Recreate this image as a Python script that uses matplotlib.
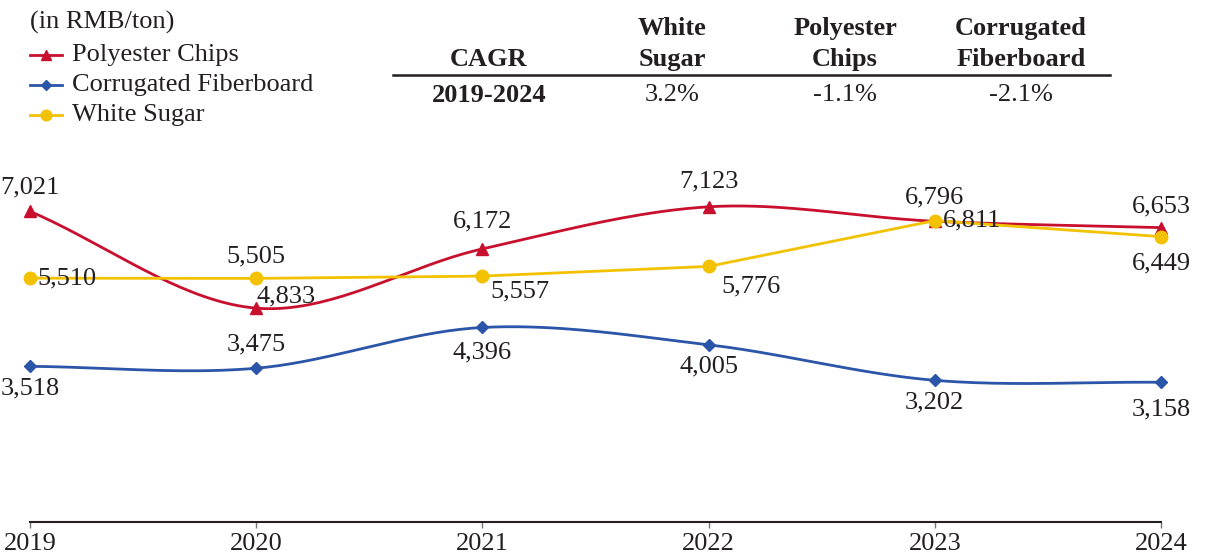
import numpy as np
import matplotlib
matplotlib.use("Agg")
import matplotlib.pyplot as plt

plt.rcParams["font.family"] = ["Liberation Serif", "DejaVu Serif"]

years = [2019, 2020, 2021, 2022, 2023, 2024]
polyester = [7021, 4833, 6172, 7123, 6796, 6653]
fiberboard = [3518, 3475, 4396, 4005, 3202, 3158]
sugar = [5510, 5505, 5557, 5776, 6811, 6449]

cagr_headers = ["CAGR", "White\nSugar", "Polyester\nChips", "Corrugated\nFiberboard"]
cagr_row = ["2019-2024", "3.2%", "-1.1%", "-2.1%"]

RED = "#C8102E"
BLUE = "#2B55A8"
YELLOW = "#F2C200"
TXT = "#231F20"
FS = 19


def smooth(x, y, n=40):
    # catmull-rom curve through the points, like excel's smoothed line
    x = np.asarray(x, float)
    y = np.asarray(y, float)
    px = np.concatenate([[2 * x[0] - x[1]], x, [2 * x[-1] - x[-2]]])
    py = np.concatenate([[2 * y[0] - y[1]], y, [2 * y[-1] - y[-2]]])
    xs, ys = [], []
    t = np.linspace(0, 1, n)
    for i in range(1, len(px) - 2):
        for p, out in ((px, xs), (py, ys)):
            p0, p1, p2, p3 = p[i - 1], p[i], p[i + 1], p[i + 2]
            out.append(0.5 * (2 * p1 + (-p0 + p2) * t
                              + (2 * p0 - 5 * p1 + 4 * p2 - p3) * t ** 2
                              + (-p0 + 3 * p1 - 3 * p2 + p3) * t ** 3))
    return np.concatenate(xs), np.concatenate(ys)


fig = plt.figure(figsize=(12.09, 5.57), dpi=100)
ax = fig.add_axes([30 / 1209, 35 / 557, 1131 / 1209, 371.7 / 557])
ax.set_xlim(2019, 2024)
ax.set_ylim(0, 8400)

sx, sy = smooth(years, polyester)
ax.plot(sx, sy, color=RED, lw=2, clip_on=False, zorder=3)
ax.plot(years, polyester, ls="none", marker="^", ms=9, color=RED, clip_on=False, zorder=4)

sx, sy = smooth(years, fiberboard)
ax.plot(sx, sy, color=BLUE, lw=2, clip_on=False, zorder=3)
ax.plot(years, fiberboard, ls="none", marker="D", ms=6.5, color=BLUE, clip_on=False, zorder=4)

ax.plot(years, sugar, color=YELLOW, lw=2, marker="o", ms=9, clip_on=False, zorder=5)

# label offsets in pixels (dx, dy)
poly_off = [(0, 24), (30, 12), (0, 27), (0, 25), (0, 24), (0, 21)]
fiber_off = [(0, -22), (0, 24), (0, -25), (0, -22), (0, -22), (0, -27)]
sugar_off = [(37, 0), (0, 22), (38, -15), (42, -20), (37, 0), (0, -27)]

for vals, offs in ((polyester, poly_off), (fiberboard, fiber_off), (sugar, sugar_off)):
    for x, v, (dx, dy) in zip(years, vals, offs):
        ax.annotate(f"{v:,}", (x, v), xytext=(dx, dy), textcoords="offset pixels",
                    ha="center", va="center", fontsize=FS, color=TXT, zorder=6)

for s in ("top", "right", "left"):
    ax.spines[s].set_visible(False)
ax.spines["bottom"].set_linewidth(1.5)
ax.spines["bottom"].set_color("#231F20")
ax.set_yticks([])
ax.set_xticks(years)
ax.set_xticklabels([str(y) for y in years], fontsize=FS, color=TXT)
ax.tick_params(axis="x", length=4, width=1, color="#777777", pad=4)

# legend block
fig.text(30 / 1209, 1 - 22 / 557, "(in RMB/ton)", fontsize=FS, color=TXT,
         ha="left", va="center")
leg = [("Polyester Chips", RED, "^", 9), ("Corrugated Fiberboard", BLUE, "D", 6.5),
       ("White Sugar", YELLOW, "o", 9)]
for i, (name, c, m, ms) in enumerate(leg):
    yy = 1 - (55 + 30 * i) / 557
    fig.add_artist(plt.Line2D([30 / 1209, 62 / 1209], [yy, yy], color=c, lw=2))
    fig.add_artist(plt.Line2D([46 / 1209], [yy], color=c, marker=m, ms=ms * 0.85))
    fig.text(72 / 1209, yy, name, fontsize=FS, color=TXT, ha="left", va="center")

# CAGR table
col_x = [489, 672, 845, 1021]
for cx, h, r in zip(col_x, cagr_headers, cagr_row):
    fig.text(cx / 1209, 1 - 71 / 557, h, fontsize=FS, fontweight="bold", color=TXT,
             ha="center", va="bottom", linespacing=1.45)
    fig.text(cx / 1209, 1 - 95 / 557, r, fontsize=FS, color=TXT, ha="center", va="center",
             fontweight="bold" if cx == col_x[0] else "normal")
fig.add_artist(plt.Line2D([393 / 1209, 1110 / 1209], [1 - 75 / 557, 1 - 75 / 557],
                          color=TXT, lw=1.8))

fig.savefig("out.png", dpi=100)
